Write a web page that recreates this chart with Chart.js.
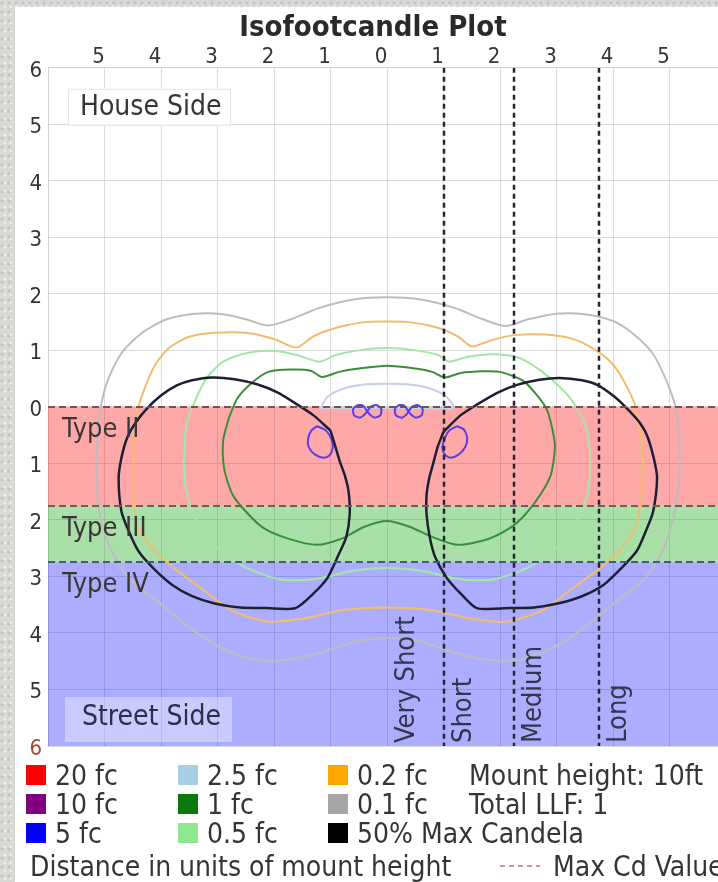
<!DOCTYPE html>
<html>
<head>
<meta charset="utf-8">
<title>Isofootcandle Plot</title>
<script src="https://cdn.jsdelivr.net/npm/chart.js@4/dist/chart.umd.min.js"></script>
<style>
  html, body { margin: 0; padding: 0; background: #fff; overflow: hidden; }
  #wrap { position: relative; width: 718px; height: 882px; overflow: hidden; background: #fff; }
  .edge {
    position: absolute; z-index: 0;
    background-color: #d8d8d4;
    background-image:
      radial-gradient(circle at 2px 3px, rgba(0,0,0,0.10) 1px, transparent 2px),
      radial-gradient(circle at 5px 7px, rgba(255,255,255,0.55) 1px, transparent 2px);
    background-size: 7px 9px, 6px 8px;
  }
  #edgeLeft { left: 0; top: 0; bottom: 0; width: 15px; }
  #edgeTop { left: 0; top: 0; right: 0; height: 7px; }
  canvas { position: absolute; left: 0; top: 0; z-index: 1; }
</style>
</head>
<body>
<div id="wrap">
  <div class="edge" id="edgeLeft"></div>
  <div class="edge" id="edgeTop"></div>
  <canvas id="plot" width="740" height="882"></canvas>
</div>
<script>
// Axis ticks (distance in mount heights; labels show absolute distance)
const xTickValues = [-5, -4, -3, -2, -1, 0, 1, 2, 3, 4, 5];
const xTickLabels = ['5', '4', '3', '2', '1', '0', '1', '2', '3', '4', '5'];
const yTickValues = [6, 5, 4, 3, 2, 1, 0, -1, -2, -3, -4, -5, -6];
const yTickLabels = ['6', '5', '4', '3', '2', '1', '0', '1', '2', '3', '4', '5', '6'];

// Lateral classification bands on the street side
const bandLabels = ['Type II', 'Type III', 'Type IV'];
const bandTops = [0, -1.75, -2.75];
const bandBottoms = [-1.75, -2.75, -6];

// Longitudinal classification (region starts and boundary lines)
const regionLabels = ['Very Short', 'Short', 'Medium', 'Long'];
const regionStarts = [0, 1.0, 2.25, 3.75];
const regionBoundaries = [1.0, 2.25, 3.75];

// Isofootcandle contours, [x, y] in mount heights
const fc01 = [
  [-5.15, -1.0], [-5.1, -0.2], [-4.95, 0.45], [-4.7, 0.95], [-4.35, 1.3], [-3.9, 1.55],
  [-3.4, 1.65], [-2.9, 1.64], [-2.5, 1.55], [-2.1, 1.44], [-1.7, 1.55], [-1.2, 1.75],
  [-0.6, 1.9], [0, 1.94], [0.6, 1.9], [1.2, 1.75], [1.7, 1.55], [2.1, 1.43], [2.5, 1.55],
  [3.0, 1.65], [3.5, 1.64], [4.0, 1.52], [4.35, 1.3], [4.7, 0.95], [4.95, 0.45],
  [5.13, -0.1], [5.18, -1.0], [5.1, -1.8], [4.9, -2.5], [4.55, -3.05], [4.05, -3.45],
  [3.5, -3.9], [2.9, -4.28], [2.3, -4.48], [1.8, -4.48], [1.2, -4.35], [0.6, -4.15],
  [0, -4.09], [-0.6, -4.16], [-1.2, -4.36], [-1.8, -4.48], [-2.3, -4.48], [-2.9, -4.28],
  [-3.5, -3.9], [-4.05, -3.45], [-4.55, -3.05], [-4.9, -2.5], [-5.1, -1.8], [-5.15, -1.0]
];
const fc02 = [
  [-4.5, -1.2], [-4.42, -0.1], [-4.3, 0.3], [-4.1, 0.75], [-3.85, 1.05], [-3.5, 1.24],
  [-3.05, 1.31], [-2.5, 1.31], [-2.0, 1.2], [-1.6, 1.05], [-1.3, 1.25], [-0.9, 1.4],
  [-0.4, 1.5], [0, 1.51], [0.4, 1.5], [0.9, 1.4], [1.25, 1.25], [1.5, 1.07], [1.85, 1.18],
  [2.25, 1.27], [2.8, 1.28], [3.3, 1.2], [3.7, 1.0], [4.0, 0.75], [4.25, 0.35],
  [4.42, -0.07], [4.53, -1.0], [4.5, -1.5], [4.42, -2.09], [4.15, -2.5], [3.77, -2.85],
  [3.3, -3.2], [2.75, -3.6], [2.1, -3.8], [1.5, -3.75], [0.8, -3.6], [0, -3.55],
  [-0.8, -3.6], [-1.5, -3.75], [-2.1, -3.8], [-2.75, -3.6], [-3.3, -3.2], [-3.77, -2.85],
  [-4.15, -2.5], [-4.42, -2.09], [-4.5, -1.2]
];
const fc05 = [
  [-3.6, -1.0], [-3.55, -0.3], [-3.4, 0.1], [-3.2, 0.5], [-2.9, 0.8], [-2.5, 0.95],
  [-2.0, 0.99], [-1.6, 0.92], [-1.2, 0.8], [-0.9, 0.92], [-0.5, 1.0], [0, 1.04],
  [0.5, 1.0], [0.9, 0.92], [1.1, 0.8], [1.4, 0.88], [1.88, 0.93], [2.3, 0.88],
  [2.58, 0.74], [2.9, 0.5], [3.24, 0.16], [3.5, -0.3], [3.6, -0.9], [3.54, -1.56],
  [3.19, -2.32], [2.58, -2.8], [1.9, -3.05], [1.3, -3.05], [0.6, -2.9], [0, -2.85],
  [-0.6, -2.9], [-1.3, -3.05], [-1.9, -3.05], [-2.58, -2.8], [-3.19, -2.32], [-3.54, -1.56],
  [-3.6, -1.0]
];
const fc1 = [
  [-2.8, -0.2], [-2.65, 0.15], [-2.4, 0.42], [-2.1, 0.62], [-1.7, 0.66], [-1.35, 0.64],
  [-1.15, 0.53], [-0.85, 0.62], [-0.5, 0.68], [0, 0.73], [0.5, 0.68], [0.8, 0.62],
  [1.03, 0.52], [1.3, 0.6], [1.7, 0.63], [2.0, 0.62], [2.41, 0.46], [2.7, 0.15],
  [2.85, -0.1], [2.97, -0.67], [2.9, -1.2], [2.71, -1.56], [2.45, -1.9], [2.18, -2.14],
  [1.75, -2.35], [1.24, -2.44], [0.8, -2.3], [0.4, -2.12], [0, -2.02], [-0.4, -2.12],
  [-0.8, -2.33], [-1.24, -2.44], [-1.75, -2.33], [-2.19, -2.14], [-2.5, -1.85],
  [-2.73, -1.56], [-2.88, -1.1], [-2.9, -0.6], [-2.8, -0.2]
];
const fc25 = [
  [-1.18, -0.02], [-1.05, 0.18], [-0.75, 0.33], [-0.35, 0.4], [0, 0.41], [0.35, 0.4],
  [0.75, 0.33], [1.05, 0.18], [1.18, -0.02], [0.6, -0.02], [0, -0.02], [-0.6, -0.02],
  [-1.18, -0.02]
];
const fc5LeftOval = [
  [-1.24, -0.34], [-1.08, -0.42], [-0.98, -0.58], [-0.96, -0.73], [-1.02, -0.86],
  [-1.12, -0.9], [-1.28, -0.84], [-1.38, -0.72], [-1.4, -0.58], [-1.34, -0.42], [-1.24, -0.34]
];
const fc5RightOval = [
  [1.24, -0.34], [1.36, -0.4], [1.42, -0.55], [1.38, -0.72], [1.26, -0.85],
  [1.12, -0.9], [1.02, -0.84], [0.98, -0.72], [1.02, -0.56], [1.1, -0.42], [1.24, -0.34]
];
const fc5LeftLobes = [
  [-0.35, -0.08], [-0.42, 0.02], [-0.52, 0.03], [-0.6, -0.04], [-0.58, -0.15], [-0.48, -0.19],
  [-0.4, -0.14], [-0.35, -0.08], [-0.28, 0.01], [-0.18, 0.03], [-0.1, -0.04], [-0.12, -0.15],
  [-0.22, -0.19], [-0.3, -0.14], [-0.35, -0.08]
];
const fc5RightLobes = [
  [0.38, -0.08], [0.31, 0.02], [0.21, 0.03], [0.14, -0.04], [0.16, -0.15], [0.26, -0.19],
  [0.34, -0.14], [0.38, -0.08], [0.45, 0.01], [0.55, 0.03], [0.63, -0.04], [0.61, -0.15],
  [0.51, -0.19], [0.43, -0.14], [0.38, -0.08]
];
const maxCd50Right = [
  [1.0, -0.44], [1.3, -0.15], [1.59, 0.04], [1.95, 0.25], [2.3, 0.39], [2.7, 0.48],
  [3.06, 0.51], [3.45, 0.47], [3.72, 0.39], [4.0, 0.2], [4.24, -0.02], [4.45, -0.25],
  [4.6, -0.5], [4.72, -0.9], [4.78, -1.26], [4.71, -1.85], [4.58, -2.2], [4.42, -2.55],
  [4.15, -2.85], [3.83, -3.15], [3.45, -3.35], [3.06, -3.47], [2.6, -3.55], [2.18, -3.56],
  [1.59, -3.56], [1.3, -3.3], [1.06, -3.03], [0.85, -2.65], [0.76, -2.32], [0.7, -1.9],
  [0.7, -1.56], [0.75, -1.25], [0.81, -1.03], [0.9, -0.7], [1.0, -0.44]
];
const maxCd50Left = [
  [-1.0, -0.42], [-1.3, -0.15], [-1.6, 0.05], [-1.95, 0.26], [-2.3, 0.4], [-2.7, 0.49],
  [-3.1, 0.52], [-3.45, 0.47], [-3.72, 0.38], [-4.0, 0.2], [-4.25, -0.03], [-4.45, -0.28],
  [-4.6, -0.55], [-4.7, -0.9], [-4.75, -1.26], [-4.7, -1.85], [-4.57, -2.2], [-4.4, -2.55],
  [-4.12, -2.87], [-3.8, -3.15], [-3.45, -3.35], [-3.05, -3.48], [-2.6, -3.55], [-2.15, -3.56],
  [-1.62, -3.56], [-1.3, -3.3], [-1.05, -3.02], [-0.85, -2.6], [-0.72, -2.3], [-0.66, -1.9],
  [-0.68, -1.5], [-0.75, -1.2], [-0.83, -0.98], [-0.92, -0.68], [-1.0, -0.42]
];

// Legend entries
const legendLabels = ['20 fc', '10 fc', '5 fc', '2.5 fc', '1 fc', '0.5 fc', '0.2 fc', '0.1 fc', '50% Max Candela'];
const legendColors = ['#ff0000', '#800080', '#0000ff', '#a9cfe4', '#0a7a0a', '#8fe88f', '#ffa500', '#a6a6a6', '#000000'];
const infoLines = ['Mount height: 10ft', 'Total LLF: 1'];
const axisNote = 'Distance in units of mount height';
const maxCdNote = 'Max Cd Value';

const FONT = '"DejaVu Sans Condensed", "DejaVu Sans", sans-serif';
const TEXT = '#353535';
const bandFills = ['rgba(255,0,0,0.34)', 'rgba(0,165,0,0.34)', 'rgba(0,0,255,0.32)'];
const bandLineColors = ['#7d5050', '#6a5f55', '#4a5588'];

const pts = arr => arr.map(([x, y]) => ({ x, y }));
const line = (label, arr, color, width) => ({
  label, data: pts(arr), borderColor: color, backgroundColor: color,
  borderWidth: width, showLine: true, pointRadius: 0, fill: false, tension: 0.25
});

const clipToArea = (ctx, a) => {
  ctx.beginPath();
  ctx.rect(a.left, a.top, a.right - a.left, a.bottom - a.top);
  ctx.clip();
};

// Band tints under the contours, classification lines and captions above them
const overlays = {
  id: 'overlays',
  beforeDatasetsDraw(chart) {
    const { ctx, chartArea: a, scales: { y } } = chart;
    ctx.save();
    clipToArea(ctx, a);
    bandTops.forEach((v, i) => {
      const y0 = y.getPixelForValue(v);
      const y1 = y.getPixelForValue(bandBottoms[i]);
      ctx.fillStyle = bandFills[i];
      ctx.fillRect(a.left, y0, a.right - a.left, y1 - y0);
    });
    ctx.restore();
  },
  afterDatasetsDraw(chart) {
    const { ctx, chartArea: a, scales: { x, y } } = chart;
    ctx.save();
    clipToArea(ctx, a);

    // band boundary lines
    ctx.lineWidth = 2;
    ctx.setLineDash([7, 4]);
    bandTops.forEach((v, i) => {
      const py = Math.round(y.getPixelForValue(v));
      ctx.strokeStyle = bandLineColors[i];
      ctx.beginPath(); ctx.moveTo(a.left, py); ctx.lineTo(a.right, py); ctx.stroke();
    });

    // longitudinal boundaries
    ctx.strokeStyle = '#262630';
    ctx.lineWidth = 2.5;
    ctx.setLineDash([5, 4]);
    regionBoundaries.forEach(v => {
      const px = Math.round(x.getPixelForValue(v));
      ctx.beginPath(); ctx.moveTo(px, a.top); ctx.lineTo(px, a.bottom); ctx.stroke();
    });
    ctx.setLineDash([]);

    // band and region names
    ctx.font = '27px ' + FONT;
    ctx.textBaseline = 'middle';
    ctx.textAlign = 'left';
    ctx.fillStyle = '#3a3636';
    bandLabels.forEach((t, i) => {
      ctx.fillText(t, a.left + 14, y.getPixelForValue(bandTops[i]) + 23);
    });
    ctx.fillStyle = '#34344c';
    regionLabels.forEach((t, i) => {
      const px = x.getPixelForValue(regionStarts[i]) + 20;
      ctx.save();
      ctx.translate(px, a.bottom - 3);
      ctx.rotate(-Math.PI / 2);
      ctx.fillText(t, 0, 0);
      ctx.restore();
    });

    // side captions
    ctx.font = '28px ' + FONT;
    ctx.fillStyle = '#ffffff';
    ctx.fillRect(a.left + 20, a.top + 21, 162, 36);
    ctx.strokeStyle = '#e6e6e6';
    ctx.lineWidth = 1;
    ctx.strokeRect(a.left + 20.5, a.top + 21.5, 162, 36);
    ctx.fillStyle = TEXT;
    ctx.fillText('House Side', a.left + 32, a.top + 40);

    ctx.fillStyle = 'rgba(255,255,255,0.35)';
    ctx.fillRect(a.left + 17, a.bottom - 49, 167, 45);
    ctx.fillStyle = '#2e2e48';
    ctx.fillText('Street Side', a.left + 34, a.bottom - 28);
    ctx.restore();
  },
  afterDraw(chart) {
    const { ctx } = chart;
    ctx.save();
    ctx.font = '28px ' + FONT;
    ctx.textBaseline = 'alphabetic';
    ctx.textAlign = 'left';
    const colX = [26, 178, 328];
    const rowY = [785, 814, 843];
    legendLabels.forEach((t, i) => {
      const c = Math.floor(i / 3), r = i % 3;
      ctx.fillStyle = legendColors[i];
      ctx.fillRect(colX[c], rowY[r] - 20, 20, 20);
      ctx.fillStyle = TEXT;
      ctx.fillText(t, colX[c] + 29, rowY[r]);
    });
    infoLines.forEach((t, i) => ctx.fillText(t, 469, rowY[i]));
    ctx.fillText(axisNote, 30, 876);
    ctx.strokeStyle = '#e58a8a';
    ctx.lineWidth = 2;
    ctx.setLineDash([5, 4]);
    ctx.beginPath(); ctx.moveTo(500, 866); ctx.lineTo(540, 866); ctx.stroke();
    ctx.setLineDash([]);
    ctx.fillText(maxCdNote, 553, 876);
    ctx.restore();
  }
};

new Chart(document.getElementById('plot'), {
  type: 'scatter',
  data: {
    datasets: [
      line('50% Max Candela', maxCd50Left, '#1e1e34', 2.5),
      line('50% Max Candela', maxCd50Right, '#1e1e34', 2.5),
      line('5 fc', fc5LeftOval, '#5a3ee6', 2),
      line('5 fc', fc5RightOval, '#5a3ee6', 2),
      line('5 fc', fc5LeftLobes, '#5a3ee6', 2),
      line('5 fc', fc5RightLobes, '#5a3ee6', 2),
      line('1 fc', fc1, '#3a8e3a', 2),
      line('0.5 fc', fc05, '#a4e6a4', 2),
      line('2.5 fc', fc25, '#c6cff0', 2),
      line('0.2 fc', fc02, '#f3bd6c', 2),
      line('0.1 fc', fc01, '#bdbdbd', 2)
    ]
  },
  options: {
    responsive: false,
    animation: false,
    devicePixelRatio: 1,
    events: [],
    layout: { padding: { left: 20, right: 14, top: 0, bottom: 136 } },
    plugins: {
      legend: { display: false },
      tooltip: { enabled: false },
      title: {
        display: true,
        text: 'Isofootcandle Plot',
        color: '#2a2a2a',
        font: { family: FONT, size: 29, weight: 'bold' },
        padding: { top: 11, bottom: 0 }
      }
    },
    scales: {
      x: {
        type: 'linear',
        position: 'top',
        min: -6,
        max: 6,
        afterBuildTicks: s => { s.ticks = xTickValues.map(v => ({ value: v })); },
        afterFit: s => { s.height = 22; },
        grid: { color: '#dcdcdc', drawTicks: false },
        border: { color: '#d0d0d0' },
        ticks: {
          autoSkip: false,
          maxRotation: 0,
          padding: -3,
          labelOffset: -6,
          color: TEXT,
          font: { family: FONT, size: 22 },
          callback: (v, i) => xTickLabels[i]
        }
      },
      y: {
        type: 'linear',
        min: -6,
        max: 6,
        afterBuildTicks: s => { s.ticks = yTickValues.map(v => ({ value: v })); },
        afterFit: s => { s.width = 28; },
        grid: { color: '#dcdcdc', drawTicks: false },
        border: { color: '#d0d0d0' },
        ticks: {
          autoSkip: false,
          padding: 6,
          labelOffset: 3,
          color: c => (c.tick && c.tick.value === -6 ? '#a24a3a' : TEXT),
          font: { family: FONT, size: 22 },
          callback: (v, i) => yTickLabels[i]
        }
      }
    }
  },
  plugins: [overlays]
});
</script>
</body>
</html>
